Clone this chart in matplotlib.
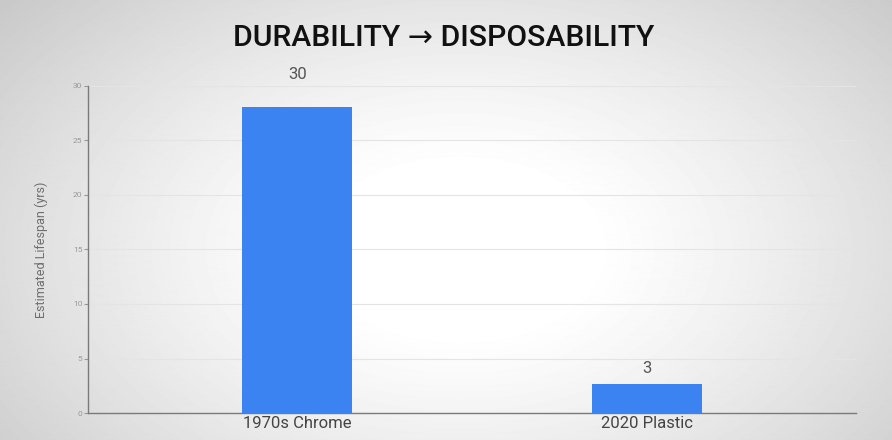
import numpy as np
from matplotlib import pyplot as plt

# bars as drawn (heights) and the value labels printed above them
categories = ['1970s Chrome', '2020 Plastic']
lifespans = [28.1, 2.65]
label_values = [30, 3]
label_texts = ['30', '3']
y_ticks = [0, 5, 10, 15, 20, 25, 30]

BAR_COLOR = '#3b83f1'
GRAY = '#6e6e6e'

plt.rcParams['font.family'] = ['Roboto', 'DejaVu Sans']

fig = plt.figure(figsize=(8.92, 4.40), dpi=100)

# radial grey-to-white background
bg = fig.add_axes([0, 0, 1, 1], zorder=-10)
yy, xx = np.mgrid[0:440, 0:892]
r = np.sqrt(((xx - 460) / 520.0) ** 2 + ((yy - 250) / 330.0) ** 2)
shade = 1.0 - 0.24 * np.clip(r - 0.25, 0, None) ** 1.2
bg.imshow(shade, cmap='gray', vmin=0, vmax=1, aspect='auto', extent=[0, 1, 0, 1])
bg.axis('off')

ax = fig.add_axes([88 / 892, 1 - 413 / 440, (856 - 88) / 892, (413 - 86) / 440])
ax.patch.set_alpha(0)

x = np.arange(len(categories))
ax.bar(x, lifespans, width=0.315, color=BAR_COLOR, zorder=3)

for xi, v, t in zip(x, label_values, label_texts):
    ax.annotate(t, (xi, v), xytext=(0, 3), textcoords='offset points',
                ha='center', va='bottom', fontsize=12, color='#555555',
                annotation_clip=False)

ax.set_xlim(-0.6, 1.6)
ax.set_ylim(0, 30)
ax.set_yticks(y_ticks)
ax.set_xticks(x)
ax.set_xticklabels(categories, fontsize=12, color='#444444')
ax.tick_params(axis='x', length=0, pad=2)
ax.tick_params(axis='y', labelsize=6, colors='#999999', length=3, width=0.8, pad=1)
ax.grid(axis='y', color='#e4e4e4', linewidth=0.8, zorder=0)

for side in ['top', 'right']:
    ax.spines[side].set_visible(False)
for side in ['left', 'bottom']:
    ax.spines[side].set_color('#7a7a7a')
    ax.spines[side].set_linewidth(1.0)

ax.set_ylabel('Estimated Lifespan (yrs)', fontsize=9, color=GRAY, labelpad=18)

fig.text(0.497, 1 - 38 / 440, 'DURABILITY \u2192 DISPOSABILITY', ha='center', va='center',
         fontsize=21.7, color='#111111', fontweight='medium')

fig.savefig('out.png', dpi=100)
